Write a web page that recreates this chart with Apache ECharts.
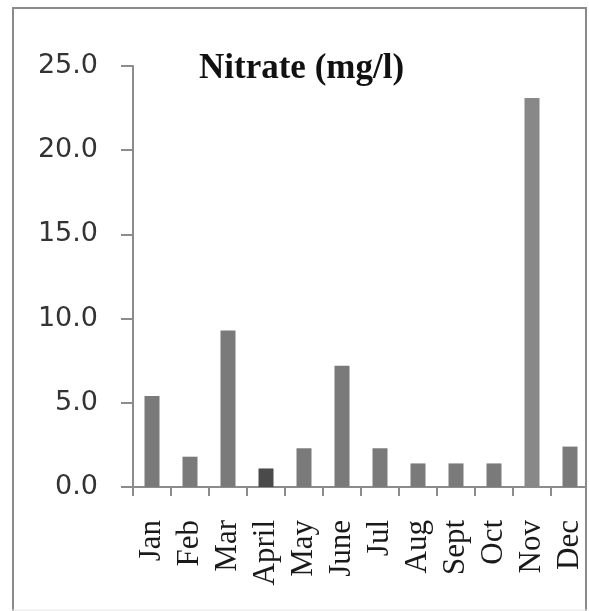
<!DOCTYPE html>
<html>
<head>
<meta charset="utf-8">
<script src="https://cdn.jsdelivr.net/npm/echarts@6/dist/echarts.min.js"></script>
<style>
  html, body { margin: 0; padding: 0; background: #ffffff; overflow: hidden; }
  #chart { width: 589px; height: 611px; }
</style>
</head>
<body>
<div id="chart"></div>
<script>
// ---- data ----
const categories = ['Jan', 'Feb', 'Mar', 'April', 'May', 'June', 'Jul', 'Aug', 'Sept', 'Oct', 'Nov', 'Dec'];
const nitrate = [5.4, 1.8, 9.3, 1.1, 2.3, 7.2, 2.3, 1.4, 1.4, 1.4, 23.1, 2.4];
const yTicks = [0, 5, 10, 15, 20, 25];
const titleText = 'Nitrate (mg/l)';

// ---- style ----
const baseColor = '#7a7a7a';
const specialColors = { 3: '#4a4a4a', 10: '#888888' };
const axisGray = '#8c8c8c';
const frameGray = '#8a8a8a';

const chart = echarts.init(document.getElementById('chart'), null, { renderer: 'canvas', width: 589, height: 611 });
chart.setOption({
  animation: false,
  backgroundColor: '#ffffff',
  grid: { left: 133, top: 66, width: 457, height: 421, containLabel: false },
  xAxis: {
    type: 'category',
    data: categories,
    boundaryGap: true,
    axisLine: { show: true, lineStyle: { color: axisGray, width: 2 } },
    axisTick: { show: true, alignWithLabel: false, length: 9, lineStyle: { color: axisGray, width: 2 } },
    axisLabel: {
      rotate: 90, margin: 33, interval: 0,
      fontFamily: 'Liberation Serif', fontSize: 31, color: '#1a1a1a'
    },
    splitLine: { show: false }
  },
  yAxis: {
    type: 'value',
    min: yTicks[0], max: yTicks[yTicks.length - 1], interval: yTicks[1] - yTicks[0],
    axisLine: { show: true, lineStyle: { color: axisGray, width: 2 } },
    axisTick: { show: true, inside: false, length: 12, lineStyle: { color: axisGray, width: 2 } },
    axisLabel: {
      margin: 35, fontFamily: 'DejaVu Sans', fontSize: 27, color: '#333333',
      formatter: v => v.toFixed(1)
    },
    splitLine: { show: false }
  },
  series: [{
    type: 'bar',
    data: nitrate,
    barWidth: 15,
    itemStyle: {
      color: p => specialColors[p.dataIndex] || baseColor
    }
  }],
  graphic: [
    {
      type: 'text', z: 10, x: 199, y: 69,
      style: {
        text: titleText, verticalAlign: 'middle', align: 'left',
        font: 'bold 35px "Liberation Serif"', fill: '#111111'
      }
    },
    {
      type: 'rect', z: 20, silent: true,
      shape: { x: 587, y: 0, width: 4, height: 611 },
      style: { fill: '#ffffff' }
    },
    { type: 'line', z: 21, silent: true, shape: { x1: 12, y1: 8, x2: 587, y2: 8 }, style: { stroke: frameGray, lineWidth: 2 } },
    { type: 'line', z: 21, silent: true, shape: { x1: 13, y1: 7, x2: 13, y2: 611 }, style: { stroke: frameGray, lineWidth: 2 } },
    { type: 'line', z: 21, silent: true, shape: { x1: 586, y1: 7, x2: 586, y2: 611 }, style: { stroke: frameGray, lineWidth: 2 } },
    { type: 'line', z: 21, silent: true, shape: { x1: 12, y1: 610, x2: 587, y2: 610 }, style: { stroke: '#e6e6e6', lineWidth: 1 } }
  ]
});
</script>
</body>
</html>
